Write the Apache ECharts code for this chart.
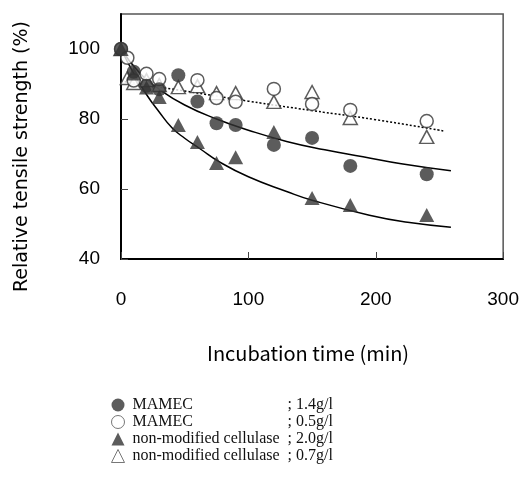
<!DOCTYPE html>
<html>
<head>
<meta charset="utf-8">
<script src="https://cdn.jsdelivr.net/npm/echarts@6/dist/echarts.min.js"></script>
<style>
  html, body { margin: 0; padding: 0; background: #fff; }
  #chart { width: 522px; height: 481px; }
</style>
</head>
<body>
<div id="chart"></div>
<script>
// measured points (min, %)
const tFilledCircle = [0, 10, 20, 30, 45, 60, 75, 90, 120, 150, 180, 240];
const mamec14 = [100, 93.5, 89.5, 88.5, 92.5, 85, 78.8, 78.3, 72.6, 74.6, 66.6, 64.2];

const tOpenCircle = [0, 5, 10, 20, 30, 60, 75, 90, 120, 150, 180, 240];
const mamec05 = [100, 97.5, 91, 92.9, 91.4, 91.1, 86, 84.9, 88.6, 84.3, 82.6, 79.4];

const tFilledTri = [0, 10, 20, 30, 45, 60, 75, 90, 120, 150, 180, 240];
const cellulase20 = [100, 93, 89, 86.3, 78.3, 73.4, 67.4, 69.1, 76.3, 57.4, 55.4, 52.6];

const tOpenTri = [0, 5, 10, 20, 30, 45, 60, 75, 90, 120, 150, 180, 240];
const cellulase07 = [100, 91.7, 90.3, 91.1, 89.7, 89.1, 89.4, 87.4, 87.4, 84.9, 87.7, 80.3, 74.9];

// fitted curves
const fitUpperT = [0, 15, 30, 50, 75, 100, 130, 160, 190, 220, 259];
const fitUpperY = [100, 93, 88.5, 84, 80, 76.8, 73.6, 71.2, 69.2, 67.2, 65.2];
const fitLowerT = [0, 10, 20, 30, 40, 50, 62, 77, 100, 130, 150, 195, 225, 259];
const fitLowerY = [100, 93, 87, 82, 77.5, 74.5, 71.5, 67.8, 63.5, 59.3, 56.8, 52.5, 50.5, 49.1];
const fitDotT = [0, 50, 100, 150, 200, 253];
const fitDotY = [90.8, 88, 85.1, 82.4, 79.8, 76.6];

const legendNames = ["MAMEC", "MAMEC", "non-modified cellulase", "non-modified cellulase"];
const legendConc = ["1.4g/l", "0.5g/l", "2.0g/l", "0.7g/l"];

const ink = "#333";
const pairs = (xs, ys) => xs.map((x, i) => [x, ys[i]]);
const key = (i) => legendNames[i] + "|" + legendConc[i];

const filled = { color: ink };
const hollow = { color: "#fff", borderColor: ink, borderWidth: 1.5 };
const legendHollow = { color: "#fff", borderColor: "#555", borderWidth: 1 };

const chart = echarts.init(document.getElementById("chart"));
chart.setOption({
  animation: false,
  grid: { left: 121, right: 17, top: 14, bottom: 222, show: true, borderColor: "#555", borderWidth: 1.5 },
  xAxis: {
    type: "value", min: 0, max: 300, interval: 100,
    name: "Incubation time (min)", nameLocation: "middle", nameGap: 84,
    nameTextStyle: { fontFamily: "Noto Sans CJK JP", fontSize: 20, color: "#000", padding: [0, 8, 0, 0] },
    axisLine: { lineStyle: { color: "#000", width: 2 } },
    axisTick: { inside: true, length: 7, lineStyle: { color: "#444", width: 1 } },
    axisLabel: { margin: 31, fontFamily: "Liberation Sans", fontSize: 19, color: "#000" },
    splitLine: { show: false }
  },
  yAxis: {
    type: "value", min: 40, max: 110, interval: 10,
    name: "Relative tensile strength (%)", nameLocation: "middle", nameGap: 89,
    nameTextStyle: { fontFamily: "DejaVu Sans", fontSize: 19, color: "#000", padding: [0, 40, 0, 0] },
    axisLine: { lineStyle: { color: "#000", width: 2 } },
    axisTick: { inside: true, length: 7, lineStyle: { color: "#444", width: 1 },
      customValues: [40, 60, 80, 100] },
    axisLabel: { margin: 21, fontFamily: "Liberation Sans", fontSize: 19, color: "#000",
      customValues: [40, 60, 80, 100] },
    splitLine: { show: false }
  },
  legend: {
    orient: "vertical", left: 111, top: 397, padding: 0,
    itemWidth: 13, itemHeight: 13, itemGap: 1,
    selectedMode: false,
    data: [
      { name: key(0), icon: "circle", itemStyle: filled },
      { name: key(1), icon: "circle", itemStyle: legendHollow },
      { name: key(2), icon: "triangle", itemStyle: filled },
      { name: key(3), icon: "triangle", itemStyle: legendHollow }
    ],
    formatter: (name) => {
      const [label, conc] = name.split("|");
      return `{a|${label}}{b|; ${conc}}`;
    },
    textStyle: {
      rich: {
        a: { width: 155, padding: [0, 0, 0, 3], fontFamily: "Liberation Serif", fontSize: 16, lineHeight: 16, color: "#111" },
        b: { fontFamily: "Liberation Serif", fontSize: 16, lineHeight: 16, color: "#111" }
      }
    }
  },
  series: [
    { type: "line", data: pairs(fitUpperT, fitUpperY), smooth: true, symbol: "none",
      lineStyle: { color: "#000", width: 1.5 }, z: 1 },
    { type: "line", data: pairs(fitLowerT, fitLowerY), smooth: true, symbol: "none",
      lineStyle: { color: "#000", width: 1.5 }, z: 1 },
    { type: "line", data: pairs(fitDotT, fitDotY), smooth: true, symbol: "none",
      lineStyle: { color: "#000", width: 1.5, type: [2, 2] }, z: 1 },
    { name: key(3), type: "scatter", data: pairs(tOpenTri, cellulase07), symbol: "triangle",
      symbolSize: [14, 13], itemStyle: hollow, z: 3 },
    { name: key(1), type: "scatter", data: pairs(tOpenCircle, mamec05), symbol: "circle",
      symbolSize: 13, itemStyle: hollow, z: 3 },
    { name: key(2), type: "scatter", data: pairs(tFilledTri, cellulase20), symbol: "triangle",
      symbolSize: [15, 14], itemStyle: filled, z: 3 },
    { name: key(0), type: "scatter", data: pairs(tFilledCircle, mamec14), symbol: "circle",
      symbolSize: 14, itemStyle: filled, z: 3 }
  ]
});
</script>
</body>
</html>
